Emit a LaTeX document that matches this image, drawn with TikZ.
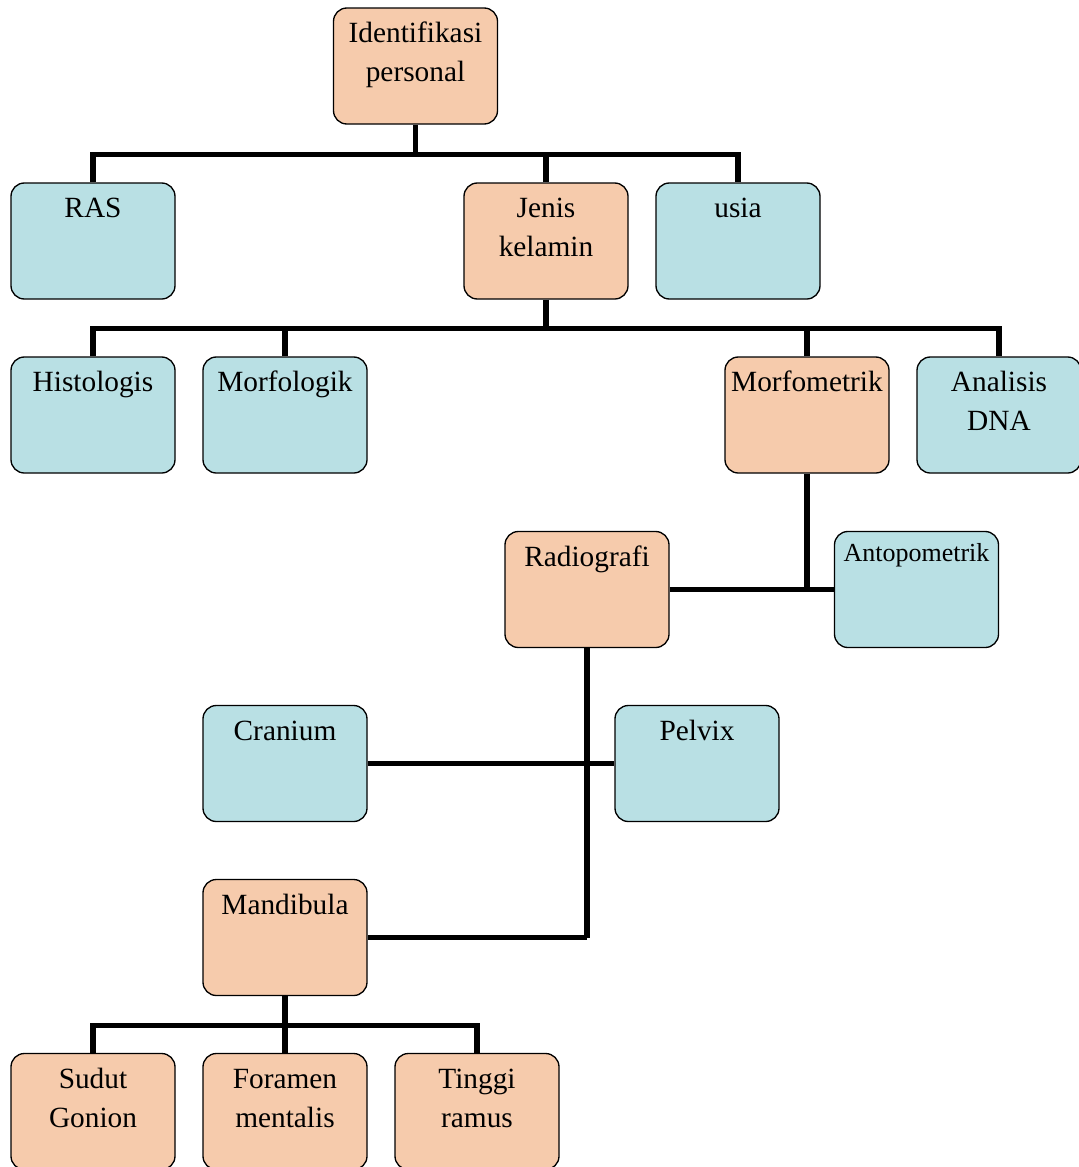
\documentclass[tikz,border=0pt]{standalone}
\usepackage{fontspec}
\setmainfont{Liberation Serif}
\definecolor{peach}{HTML}{F6CBAC}
\definecolor{bluebox}{HTML}{B9E0E4}
\newcommand{\boxtext}[2][26pt]{\parbox[t][87pt][t]{123pt}{\centering\fontsize{22pt}{29.25pt}\selectfont\rule{0pt}{#1}#2}}
\newcommand{\smallboxtext}[1]{\parbox[t][87pt][t]{123pt}{\centering\fontsize{19.5pt}{26pt}\selectfont\rule{0pt}{22.5pt}#1}}
\tikzset{
  box/.style={draw=black, line width=1pt, rounded corners=10pt, inner sep=0pt,
    minimum width=123pt, minimum height=87pt},
  pbox/.style={box, fill=peach},
  bbox/.style={box, fill=bluebox},
  conn/.style={draw=black, line width=3.8pt}
}
\begin{document}
\begin{tikzpicture}[x=0.75pt, y=-0.75pt]
\useasboundingbox (0,0) rectangle (1078,1167);
% nodes
\node[pbox] (idp) at (415.5,66) {\boxtext{Identifikasi\\personal}};
\node[bbox] (ras) at (93,241) {\boxtext{RAS}};
\node[pbox] (jk) at (546,241) {\boxtext{Jenis\\kelamin}};
\node[bbox] (usia) at (738,241) {\boxtext{usia}};
\node[bbox] (hist) at (93,415) {\boxtext{Histologis}};
\node[bbox] (morg) at (285,415) {\boxtext{Morfologik}};
\node[pbox] (mft) at (807,415) {\boxtext{Morfometrik}};
\node[bbox] (adna) at (999,415) {\boxtext{Analisis\\DNA}};
\node[pbox] (rad) at (587,589.5) {\boxtext{Radiografi}};
\node[bbox] (ant) at (916.5,589.5) {\smallboxtext{Antopometrik}};
\node[bbox] (cran) at (285,763.5) {\boxtext{Cranium}};
\node[bbox] (pel) at (697,763.5) {\boxtext{Pelvix}};
\node[pbox] (mand) at (285,937.5) {\boxtext{Mandibula}};
\node[pbox] (sg) at (93,1111.5) {\boxtext{Sudut\\Gonion}};
\node[pbox] (fm) at (285,1111.5) {\boxtext{Foramen\\mentalis}};
\node[pbox] (tr) at (477,1111.5) {\boxtext{Tinggi\\ramus}};
% connectors
\draw[conn] (idp.south) -- ++(0,29.5) coordinate (j1);
\draw[conn] (ras.north) |- (j1) -| (usia.north);
\draw[conn] (jk.north) -- (jk.north |- j1);
\draw[conn] (jk.south) -- ++(0,28.5) coordinate (j2);
\draw[conn] (hist.north) |- (j2) -| (adna.north);
\draw[conn] (morg.north) -- (morg.north |- j2);
\draw[conn] (mft.north) -- (mft.north |- j2);
\draw[conn] (mft.south) -- (mft.south |- rad.east);
\draw[conn] (rad.east) -- (ant.west);
\draw[conn] (rad.south) -- (rad.south |- mand.east);
\draw[conn] (cran.east) -- (pel.west);
\draw[conn] (mand.east) -- (rad.south |- mand.east);
\draw[conn] (mand.south) -- ++(0,29) coordinate (j3);
\draw[conn] (sg.north) |- (j3) -| (tr.north);
\draw[conn] (fm.north) -- (fm.north |- j3);
\end{tikzpicture}
\end{document}
